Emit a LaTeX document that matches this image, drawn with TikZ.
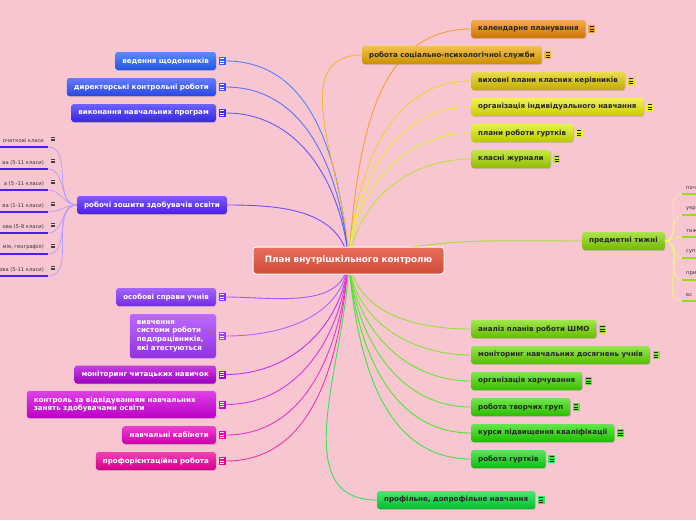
\documentclass[tikz,border=0pt]{standalone}
\usepackage{fontspec}
\setmainfont{DejaVu Sans}
\usetikzlibrary{shadows,backgrounds}

\definecolor{bgpink}{HTML}{F8C6D0}
\definecolor{rootred}{HTML}{E4533E}
\definecolor{lc1}{HTML}{2563FF}
\definecolor{lc2}{HTML}{3050FF}
\definecolor{lc3}{HTML}{3C2CFF}
\definecolor{lc4}{HTML}{5522FF}
\definecolor{lc5}{HTML}{8533FF}
\definecolor{lc6}{HTML}{A638FF}
\definecolor{lc7}{HTML}{B000D8}
\definecolor{lc8}{HTML}{D500DF}
\definecolor{lc9}{HTML}{E800C0}
\definecolor{lc10}{HTML}{EE0099}
\definecolor{rc1}{HTML}{F08800}
\definecolor{rc2}{HTML}{EEA800}
\definecolor{rc3}{HTML}{E2CC00}
\definecolor{rc4}{HTML}{EEEE00}
\definecolor{rc5}{HTML}{D8EE00}
\definecolor{rc6}{HTML}{AADD00}
\definecolor{rc7}{HTML}{88D800}
\definecolor{rc8}{HTML}{77DD00}
\definecolor{rc9}{HTML}{66DD00}
\definecolor{rc10}{HTML}{44DD00}
\definecolor{rc11}{HTML}{33DD00}
\definecolor{rc12}{HTML}{22DD00}
\definecolor{rc13}{HTML}{11DD11}
\definecolor{rc14}{HTML}{00DD33}

\tikzset{
  root/.style={rounded corners=3pt, draw=white, line width=1pt, minimum width=191pt,
    minimum height=27pt, text=white, font=\fontsize{8.8}{10}\selectfont\bfseries,
    top color=rootred!85!white, bottom color=rootred!92!black},
  topic/.style={rounded corners=2.5pt, minimum height=18pt, inner xsep=7pt, inner ysep=2pt,
    font=\fontsize{7.1}{8.6}\selectfont\bfseries,
    drop shadow={opacity=0.3, shadow xshift=0.7pt, shadow yshift=-0.9pt}},
  ltopic/.style={topic, anchor=east, text=white, top color=#1!75!white, bottom color=#1!88!black},
  rtopic/.style={topic, anchor=west, text=black!85, top color=#1!70!white, bottom color=#1!85!black},
  licon/.style={inner sep=0pt, minimum width=7pt, minimum height=8pt, fill=#1,
    path picture={\foreach \k in {-2.2,0,2.2}
      \draw[white, line width=0.75pt] ([xshift=1.4pt, yshift=\k pt]path picture bounding box.west)
        -- ([xshift=-1.4pt, yshift=\k pt]path picture bounding box.east);}},
  ricon/.style={inner sep=0pt, minimum width=7pt, minimum height=8pt, fill=#1!80!white,
    path picture={\foreach \k in {-2.2,0,2.2}
      \draw[black!85, line width=0.75pt] ([xshift=1.4pt, yshift=\k pt]path picture bounding box.west)
        -- ([xshift=-1.4pt, yshift=\k pt]path picture bounding box.east);}},
  smallicon/.style={inner sep=0pt, minimum width=5pt, minimum height=5pt,
    path picture={\foreach \k in {-1.6,0,1.6}
      \draw[black!75, line width=0.5pt] ([xshift=0.5pt, yshift=\k pt]path picture bounding box.west)
        -- ([xshift=-0.5pt, yshift=\k pt]path picture bounding box.east);}},
  leaftext/.style={inner sep=1pt, text=black!80, font=\fontsize{5.2}{6}\selectfont},
  conn/.style={line width=0.9pt, draw=#1!80!white},
}

\begin{document}
\begin{tikzpicture}[x=1pt,y=1pt]
\useasboundingbox (0,0) rectangle (696,-520);

\node[root] (root) at (348.5,-260.5) {План внутрішкільного контролю};

% left side
\node[ltopic=lc1] (l1) at (216,-61) {ведення щоденників};
\node[ltopic=lc2] (l2) at (216,-87) {директорські контрольні роботи};
\node[ltopic=lc3] (l3) at (216,-113) {виконання навчальних програм};
\node[ltopic=lc4] (w4) at (227,-205) {робочі зошити здобувачів освіти};
\node[ltopic=lc5] (l5) at (216,-297) {особові справи учнів};
\node[ltopic=lc6, align=left, text width=72pt, minimum height=44pt] (l6) at (216,-336)
  {вивчення\\системи роботи\\педпрацівників,\\які атестуються};
\node[ltopic=lc7] (l7) at (216,-374.5) {моніторинг читацьких навичок};
\node[ltopic=lc8, align=left, text width=175pt, minimum height=27pt] (l8) at (216,-404.5)
  {контроль за відвідуванням навчальних\\занять здобувачами освіти};
\node[ltopic=lc9] (l9) at (216,-435) {навчальні кабінети};
\node[ltopic=lc10] (l10) at (216,-461) {профорієнтаційна робота};

\node[licon=lc1] (l1i) at ([xshift=6pt]l1.east) {};
\node[licon=lc2] (l2i) at ([xshift=6pt]l2.east) {};
\node[licon=lc3] (l3i) at ([xshift=6pt]l3.east) {};
\node[licon=lc5] (l5i) at ([xshift=6pt]l5.east) {};
\node[licon=lc6] (l6i) at ([xshift=6pt]l6.east) {};
\node[licon=lc7] (l7i) at ([xshift=6pt]l7.east) {};
\node[licon=lc8] (l8i) at ([xshift=6pt]l8.east) {};
\node[licon=lc9] (l9i) at ([xshift=6pt]l9.east) {};
\node[licon=lc10] (l10i) at ([xshift=6pt]l10.east) {};

\foreach \yy/\txt [count=\i] in {147/{очаткові класи}, 169/{ва (5-11 класи)}, 190/{а (5 -11 класи)},
    212/{ва (1-11 класи)}, 233/{ова (5-9 класи)}, 254/{мія, географія)}, 276/{ова (5-11 класи)}} {
  \node[leaftext, anchor=south east] (wl\i) at (45,{-\yy+3}) {\txt};
  \node[smallicon] (wli\i) at (53,{-\yy+8}) {};
  \coordinate (we\i) at (48,-\yy);
  \draw[line width=2.2pt, lc4!85!blue] (0,-\yy) -- (we\i);
  \draw[line width=0.7pt, lc4!45!white] (we\i) to[out=0,in=180] (w4.west);
}

% right side
\node[rtopic=rc1] (r1) at (471,-29) {календарне планування};
\node[rtopic=rc2] (r2) at (362,-55) {робота соціально-психологічної служби};
\node[rtopic=rc3] (r3) at (471,-81) {виховні плани класних керівників};
\node[rtopic=rc4] (r4) at (471,-107) {організація індивідуального навчання};
\node[rtopic=rc5] (r5) at (471,-133) {плани роботи гуртків};
\node[rtopic=rc6] (r6) at (471,-159) {класні журнали};
\node[rtopic=rc7] (r7) at (582,-241) {предметні тижні};
\node[rtopic=rc8] (r8) at (471,-329) {аналіз планів роботи ШМО};
\node[rtopic=rc9] (r9) at (471,-355) {моніторинг навчальних досягнень учнів};
\node[rtopic=rc10] (r10) at (471,-381) {організація харчування};
\node[rtopic=rc11] (r11) at (471,-407) {робота творчих груп};
\node[rtopic=rc12] (r12) at (471,-433) {курси підвищення кваліфікації};
\node[rtopic=rc13] (r13) at (471,-459) {робота гуртків};
\node[rtopic=rc14] (r14) at (377,-500) {профільне, допрофільне навчання};

\node[ricon=rc1] (r1i) at ([xshift=6pt]r1.east) {};
\node[ricon=rc2] (r2i) at ([xshift=6pt]r2.east) {};
\node[ricon=rc3] (r3i) at ([xshift=6pt]r3.east) {};
\node[ricon=rc4] (r4i) at ([xshift=6pt]r4.east) {};
\node[ricon=rc5] (r5i) at ([xshift=6pt]r5.east) {};
\node[ricon=rc6] (r6i) at ([xshift=6pt]r6.east) {};
\node[ricon=rc8] (r8i) at ([xshift=6pt]r8.east) {};
\node[ricon=rc9] (r9i) at ([xshift=6pt]r9.east) {};
\node[ricon=rc10] (r10i) at ([xshift=6pt]r10.east) {};
\node[ricon=rc11] (r11i) at ([xshift=6pt]r11.east) {};
\node[ricon=rc12] (r12i) at ([xshift=6pt]r12.east) {};
\node[ricon=rc13] (r13i) at ([xshift=6pt]r13.east) {};
\node[ricon=rc14] (r14i) at ([xshift=6pt]r14.east) {};

\foreach \yy/\txt [count=\i] in {194/{поч}, 215/{укр}, 237/{тиж}, 258/{суп},
    280/{при}, 301/{вс}} {
  \node[leaftext, anchor=south west] (pl\i) at (685,{-\yy+3}) {\txt};
  \coordinate (pe\i) at (682,-\yy);
  \draw[line width=2.2pt, rc7!90!white] (pe\i) -- (700,-\yy);
  \draw[line width=0.7pt, rc5!50!white] (r7.east) to[out=0,in=180] (pe\i);
}

\begin{scope}[on background layer]
\fill[bgpink] (0,0) rectangle (696,-520);
\draw[conn=lc1] (root.center) to[out=95,in=0] (l1i.east);
\draw[conn=lc2] (root.center) to[out=95,in=0] (l2i.east);
\draw[conn=lc3] (root.center) to[out=95,in=0] (l3i.east);
\draw[conn=lc4] (root.center) to[out=100,in=0] (w4.east);
\draw[conn=lc5] (root.center) to[out=265,in=0] (l5i.east);
\draw[conn=lc6] (root.center) to[out=265,in=0] (l6i.east);
\draw[conn=lc7] (root.center) to[out=265,in=0] (l7i.east);
\draw[conn=lc8] (root.center) to[out=265,in=0] (l8i.east);
\draw[conn=lc9] (root.center) to[out=265,in=0] (l9i.east);
\draw[conn=lc10] (root.center) to[out=265,in=0] (l10i.east);
\draw[conn=rc1] (root.center) to[out=85,in=180] (r1.west);
\draw[conn=rc2] (root.center) to[out=90,in=180] (r2.west);
\draw[conn=rc3] (root.center) to[out=85,in=180] (r3.west);
\draw[conn=rc4] (root.center) to[out=85,in=180] (r4.west);
\draw[conn=rc5] (root.center) to[out=85,in=180] (r5.west);
\draw[conn=rc6] (root.center) to[out=80,in=180] (r6.west);
\draw[conn=rc7] (root.center) to[out=15,in=180] (r7.west);
\draw[conn=rc8] (root.center) to[out=280,in=180] (r8.west);
\draw[conn=rc9] (root.center) to[out=275,in=180] (r9.west);
\draw[conn=rc10] (root.center) to[out=275,in=180] (r10.west);
\draw[conn=rc11] (root.center) to[out=275,in=180] (r11.west);
\draw[conn=rc12] (root.center) to[out=275,in=180] (r12.west);
\draw[conn=rc13] (root.center) to[out=275,in=180] (r13.west);
\draw[conn=rc14] (root.center) to[out=270,in=180] (r14.west);
\end{scope}
\end{tikzpicture}
\end{document}
